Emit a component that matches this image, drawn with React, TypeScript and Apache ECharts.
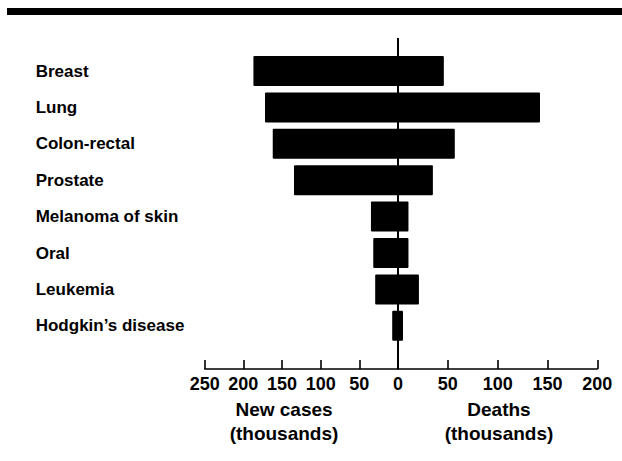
import React, { useEffect, useRef } from "react";
import * as echarts from "echarts";

const cancers = [
  "Breast",
  "Lung",
  "Colon-rectal",
  "Prostate",
  "Melanoma of skin",
  "Oral",
  "Leukemia",
  "Hodgkin’s disease",
];
const newCases = [187, 172, 162, 134.5, 35, 32, 29.5, 7.5];
const deaths = [46, 142.5, 57, 35, 10.5, 10.5, 21, 5];
const newCasesTicks = { min: 0, max: 250, interval: 50 };
const deathsTicks = { min: 0, max: 200, interval: 50 };

const FONT = "Liberation Sans, Arial, Helvetica, sans-serif";

export default function App() {
  const ref = useRef<HTMLDivElement>(null);
  useEffect(() => {
    const chart = echarts.init(ref.current!, null, { renderer: "svg" });
    const gridTop = 52.8;
    const gridH = 291.2;
    const axisCommon = {
      type: "value" as const,
      position: "bottom" as const,
      offset: 25,
      splitLine: { show: false },
      axisLine: { show: true, lineStyle: { color: "#000", width: 1.6 } },
      axisTick: { show: true, inside: true, length: 9, lineStyle: { color: "#000", width: 1.6 } },
      axisLabel: {
        color: "#000",
        fontFamily: FONT,
        fontSize: 18,
        fontWeight: "bold" as const,
        margin: 6,
        showMinLabel: true,
        showMaxLabel: true,
      },
    };
    chart.setOption({
      animation: false,
      backgroundColor: "#fff",
      grid: [
        { left: 204.7, top: gridTop, width: 193.3, height: gridH },
        { left: 398, top: gridTop, width: 199.3, height: gridH },
      ],
      xAxis: [
        {
          ...axisCommon,
          gridIndex: 0,
          inverse: true,
          min: newCasesTicks.min,
          max: newCasesTicks.max,
          interval: newCasesTicks.interval,
        },
        {
          ...axisCommon,
          gridIndex: 1,
          min: deathsTicks.min,
          max: deathsTicks.max,
          interval: deathsTicks.interval,
          axisLabel: {
            ...axisCommon.axisLabel,
            formatter: (v: number) => (v === 0 ? "" : String(v)),
          },
        },
      ],
      yAxis: [
        {
          type: "category",
          gridIndex: 0,
          data: cancers,
          inverse: true,
          axisLine: { show: false },
          axisTick: { show: false },
          axisLabel: {
            color: "#000",
            fontFamily: FONT,
            fontSize: 17,
            fontWeight: "bold",
            align: "left",
            margin: 169,
          },
        },
        {
          type: "category",
          gridIndex: 1,
          data: cancers,
          inverse: true,
          axisLine: { show: false },
          axisTick: { show: false },
          axisLabel: { show: false },
        },
      ],
      series: [
        {
          type: "bar",
          name: "New cases",
          xAxisIndex: 0,
          yAxisIndex: 0,
          data: newCases,
          barWidth: 30,
          itemStyle: { color: "#000", borderRadius: 1 },
        },
        {
          type: "bar",
          name: "Deaths",
          xAxisIndex: 1,
          yAxisIndex: 1,
          data: deaths,
          barWidth: 30,
          itemStyle: { color: "#000", borderRadius: 1 },
        },
      ],
      graphic: [
        { type: "rect", shape: { x: 7, y: 8, width: 615, height: 7 }, style: { fill: "#000" } },
        {
          type: "line",
          shape: { x1: 398, y1: 38, x2: 398, y2: 369 },
          style: { stroke: "#000", lineWidth: 2 },
          z: 10,
        },
        {
          type: "text",
          x: 284,
          y: 421,
          style: {
            text: "New cases\n(thousands)",
            fill: "#000",
            font: `bold 19px ${FONT}`,
            align: "center",
            verticalAlign: "middle",
            lineHeight: 24,
          },
        },
        {
          type: "text",
          x: 499,
          y: 421,
          style: {
            text: "Deaths\n(thousands)",
            fill: "#000",
            font: `bold 19px ${FONT}`,
            align: "center",
            verticalAlign: "middle",
            lineHeight: 24,
          },
        },
      ],
    });
    return () => chart.dispose();
  }, []);
  return (
    <div
      ref={ref}
      style={{ position: "fixed", left: 0, top: 0, width: 622, height: 461 }}
    />
  );
}
